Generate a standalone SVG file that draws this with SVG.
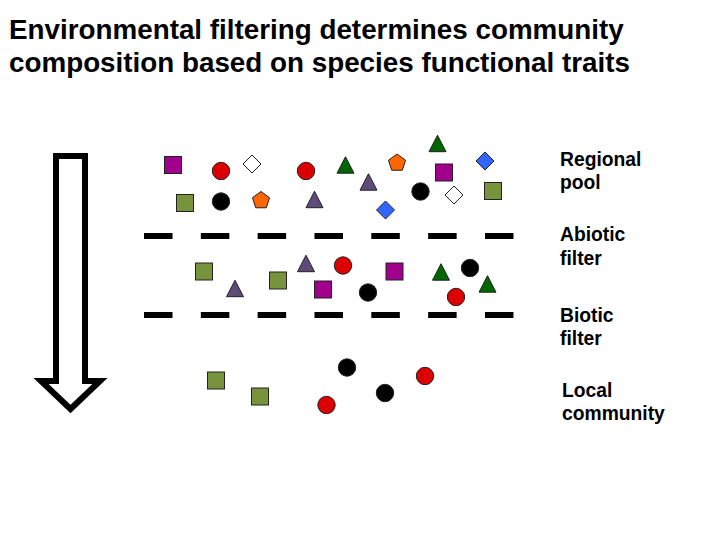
<svg xmlns="http://www.w3.org/2000/svg" xmlns:xlink="http://www.w3.org/1999/xlink" width="720" height="540" viewBox="0 0 720 540">
<style>
  .title { font-family: "Liberation Sans", Arial, sans-serif; font-weight: bold; font-size: 27.8px; fill: #000; }
  .label { font-family: "Liberation Sans", Arial, sans-serif; font-weight: bold; font-size: 19.3px; fill: #000; }
  .filter { stroke: #000; stroke-width: 6; stroke-dasharray: 28.5 28.33; fill: none; }
  .sp { stroke: #222; stroke-width: 1; }
  .mag { fill: #A0008C; }
  .red { fill: #DD0000; }
  .grn { fill: #006600; }
  .pur { fill: #5F4A7C; }
  .org { fill: #FF6600; }
  .blu { fill: #3366FF; }
  .olv { fill: #77933C; }
  .blk { fill: #000; }
  .wht { fill: #FFF; }
</style>
<defs>
  <rect id="sq" x="-8.5" y="-8.5" width="17" height="17"/>
  <circle id="ci" r="8.7"/>
  <polygon id="tri" points="0,-8.5 8.5,8 -8.5,8"/>
  <polygon id="dia" points="0,-9 9,0 0,9 -9,0"/>
  <polygon id="pent" points="0,-9 8.56,-2.78 5.29,7.28 -5.29,7.28 -8.56,-2.78"/>
</defs>

<g id="title">
  <text class="title" x="9" y="39">Environmental filtering determines community</text>
  <text class="title" x="9" y="72">composition based on species functional traits</text>
</g>

<g id="arrow">
  <polygon points="56,156 85,156 85,381 100,381 70.5,409 41,381 56,381" fill="#FFF" stroke="#000" stroke-width="6" stroke-linejoin="miter"/>
</g>

<g id="filters">
  <line id="abiotic-line" class="filter" x1="144" y1="236" x2="514" y2="236"/>
  <line id="biotic-line" class="filter" x1="144" y1="315" x2="514" y2="315"/>
</g>

<g id="regional-pool">
  <use href="#sq" class="sp mag" x="173" y="165"/>
  <use href="#ci" class="sp red" x="221" y="171"/>
  <use href="#dia" class="sp wht" x="252" y="164"/>
  <use href="#ci" class="sp red" x="306" y="171"/>
  <use href="#tri" class="sp grn" x="345.5" y="165.2"/>
  <use href="#tri" class="sp pur" x="368.5" y="182.2"/>
  <use href="#pent" class="sp org" x="397" y="163"/>
  <use href="#tri" class="sp grn" x="437.5" y="143.7"/>
  <use href="#dia" class="sp blu" x="485" y="161"/>
  <use href="#sq" class="sp mag" x="444" y="172.5"/>
  <use href="#ci" class="sp blk" x="420.5" y="191.5"/>
  <use href="#dia" class="sp wht" x="454" y="195"/>
  <use href="#sq" class="sp olv" x="493" y="191"/>
  <use href="#dia" class="sp blu" x="385.5" y="210"/>
  <use href="#sq" class="sp olv" x="185" y="203"/>
  <use href="#ci" class="sp blk" x="221" y="201.5"/>
  <use href="#pent" class="sp org" x="261" y="200.5"/>
  <use href="#tri" class="sp pur" x="314.5" y="199.7"/>
</g>

<g id="after-abiotic">
  <use href="#sq" class="sp olv" x="204" y="271.5"/>
  <use href="#tri" class="sp pur" x="235" y="288.7"/>
  <use href="#sq" class="sp olv" x="278" y="280.5"/>
  <use href="#tri" class="sp pur" x="306" y="263.7"/>
  <use href="#ci" class="sp red" x="343" y="265.5"/>
  <use href="#sq" class="sp mag" x="323" y="289.5"/>
  <use href="#ci" class="sp blk" x="368" y="292.5"/>
  <use href="#sq" class="sp mag" x="394.5" y="271.5"/>
  <use href="#tri" class="sp grn" x="441" y="272.2"/>
  <use href="#ci" class="sp blk" x="470" y="268"/>
  <use href="#ci" class="sp red" x="456" y="297"/>
  <use href="#tri" class="sp grn" x="487.5" y="284.2"/>
</g>

<g id="local-community">
  <use href="#sq" class="sp olv" x="216" y="380.5"/>
  <use href="#sq" class="sp olv" x="260" y="396.5"/>
  <use href="#ci" class="sp blk" x="347" y="367.5"/>
  <use href="#ci" class="sp red" x="326.5" y="405"/>
  <use href="#ci" class="sp blk" x="385" y="393"/>
  <use href="#ci" class="sp red" x="425" y="376"/>
</g>

<g id="labels">
  <g id="label-regional">
    <text class="label" x="560" y="165.5">Regional</text>
    <text class="label" x="560" y="189">pool</text>
  </g>
  <g id="label-abiotic">
    <text class="label" x="560" y="241">Abiotic</text>
    <text class="label" x="560" y="264.5">filter</text>
  </g>
  <g id="label-biotic">
    <text class="label" x="560" y="321.5">Biotic</text>
    <text class="label" x="560" y="345">filter</text>
  </g>
  <g id="label-local">
    <text class="label" x="562" y="396.5">Local</text>
    <text class="label" x="562" y="420">community</text>
  </g>
</g>
</svg>
